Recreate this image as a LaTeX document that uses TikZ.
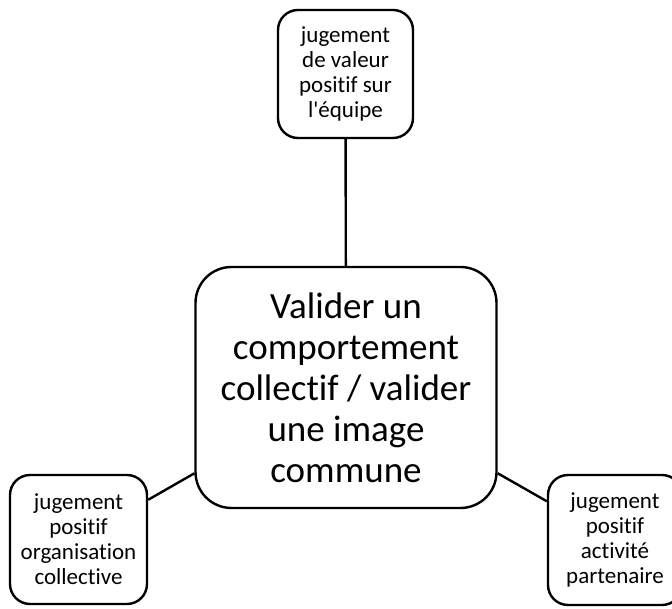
\documentclass[tikz,border=0pt]{standalone}
\usepackage{fontspec}
\setmainfont[Ligatures={TeXOff,CommonOff}]{Carlito}
\usepackage{tikz}

\tikzset{
  smallbox/.style={draw, line width=2.4pt, rounded corners=20pt, align=center,
    font=\fontsize{23}{25}\selectfont, inner sep=0pt},
  bigbox/.style={draw, line width=2.4pt, rounded corners=36pt, align=center,
    font=\fontsize{37}{41}\selectfont, inner sep=0pt,
    minimum width=301pt, minimum height=241pt},
  link/.style={line width=2.4pt}
}

\begin{document}
\begin{tikzpicture}[x=1pt,y=1pt]
                \useasboundingbox (0,0) rectangle (672,608);
                \clip (0,0) rectangle (672,608);
                \node[bigbox] (centre) at (346,220.5) {Valider un\\comportement\\collectif / valider\\une image\\commune};
                \node[smallbox, minimum width=135pt, minimum height=128pt] (equipe) at (345.5,534) {jugement\\de valeur\\positif sur\\l'équipe};
                \node[smallbox, minimum width=137pt, minimum height=129pt] (orga) at (78.5,68.5) {jugement\\positif\\organisation\\collective};
                \node[smallbox, minimum width=134pt, minimum height=130pt] (parten) at (615,68) {jugement\\positif\\activité\\partenaire};
                \draw[link] (equipe) -- (centre);
                \draw[link] (orga) -- (centre);
                \draw[link] (parten) -- (centre);
            \end{tikzpicture}
\end{document}
